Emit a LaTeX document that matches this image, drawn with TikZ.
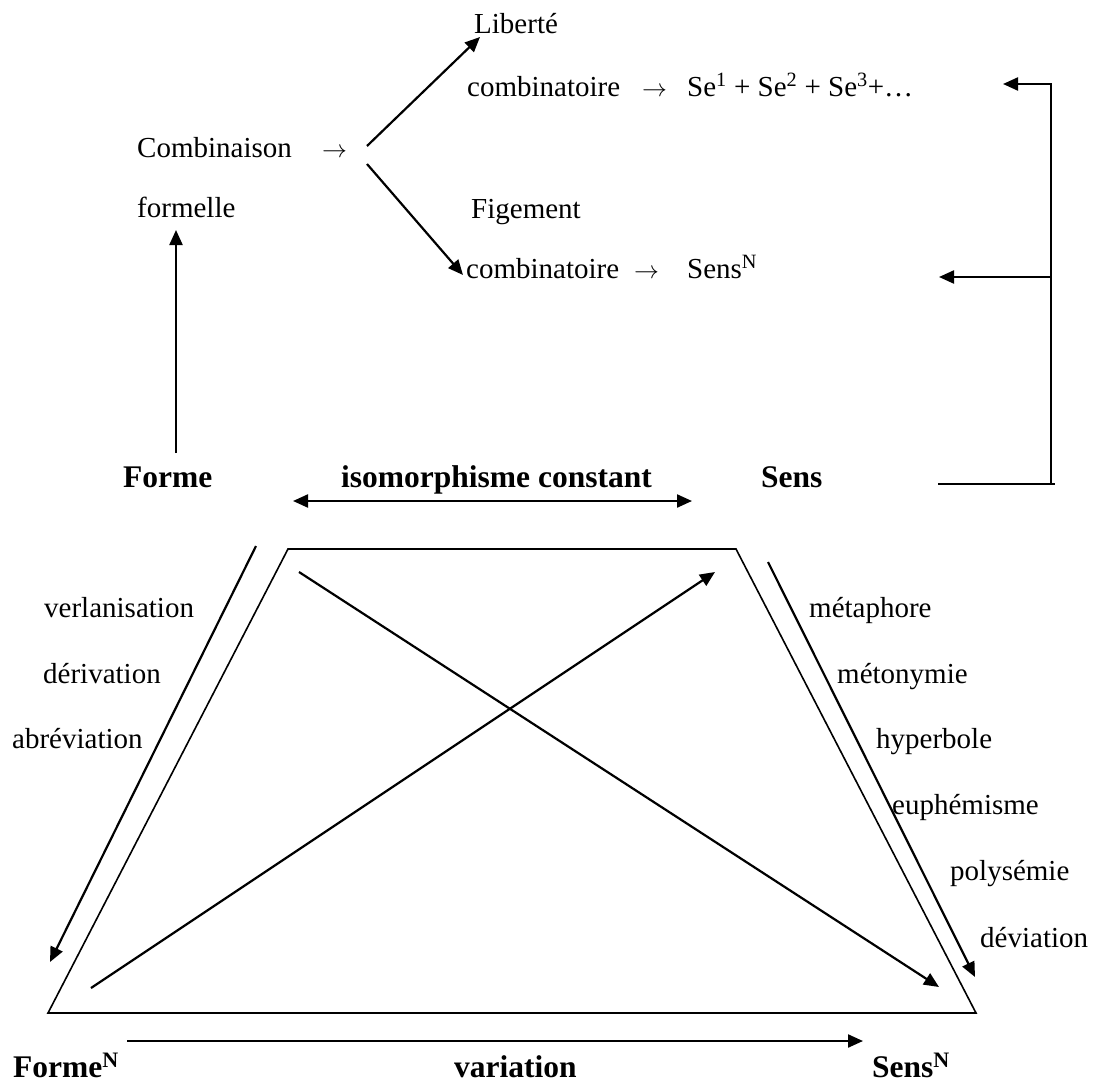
\documentclass[tikz,border=0pt]{standalone}
\usepackage{fontspec}
\setmainfont{Liberation Serif}
\usetikzlibrary{arrows.meta}
\begin{document}
\begin{tikzpicture}[x=1pt,y=-1pt,
  lbl/.style={anchor=base west, inner sep=0pt, font=\fontsize{29}{34}\selectfont},
  hd/.style={anchor=base west, inner sep=0pt, font=\fontsize{31.5}{37}\selectfont\bfseries},
  arr/.style={line width=2.2pt, line join=miter, -{Triangle[length=15pt,width=13pt]}},
  dblarr/.style={line width=2.2pt, {Triangle[length=15pt,width=13pt]}-{Triangle[length=15pt,width=13pt]}},
  plain/.style={line width=2.2pt, line join=miter},
  trap/.style={line width=1.6pt, line join=miter}]
\useasboundingbox (0,0) rectangle (1111,1084);

% upper part: combination branches
\node[lbl] (comb)   at (137,157) {Combinaison};
\node[lbl] (combar) at (322,157) {$\rightarrow$};
\node[lbl] (form)   at (137,217) {formelle};
\node[lbl] (lib)    at (474,33)  {Liberté};
\node[lbl] (cmb1)   at (467,96)  {combinatoire};
\node[lbl] (ar1)    at (642,96)  {$\rightarrow$};
\node[lbl] (se)     at (687,96)  {Se\textsuperscript{1} + Se\textsuperscript{2} + Se\textsuperscript{3}+…};
\node[lbl] (fig)    at (471,218) {Figement};
\node[lbl] (cmb2)   at (466,278) {combinatoire};
\node[lbl] (ar2)    at (634,278) {$\rightarrow$};
\node[lbl] (sensn1) at (687,278) {Sens\textsuperscript{N}};

\coordinate (fork1) at (367,146);
\coordinate (fork2) at (367,164);
\coordinate (libtip) at (480,37);
\coordinate (cmbtip) at (463,275);
\draw[arr] (fork1) -- (libtip);
\draw[arr] (fork2) -- (cmbtip);

% middle headings
\node[hd] (forme) at (123,487) {Forme};
\node[hd] (iso)   at (341,487) {isomorphisme constant};
\node[hd] (sens)  at (761,487) {Sens};

\coordinate (upbot) at (176,453);
\coordinate (uptop) at (176,230);
\draw[arr] (upbot) -- (uptop);

\coordinate (isoL) at (293,501);
\coordinate (isoR) at (692,501);
\draw[dblarr] (isoL) -- (isoR);

% bracket on the right
\coordinate (brA) at (938,484);
\coordinate (brB) at (1051,484);
\coordinate (brC) at (1051,84);
\coordinate (brM) at (1051,277);
\coordinate (tipA) at (1003,84);
\coordinate (tipB) at (939,277);
\draw[plain] (brA) -- (1055,484);
\draw[arr] (brB) -- (brC) -- (tipA);
\draw[arr] (brM) -- (tipB);

% trapezoid
\coordinate (tl) at (288,549);
\coordinate (tr) at (736,549);
\coordinate (brr) at (976,1013);
\coordinate (bll) at (48,1013);
\draw[trap] (tl) -- (tr) -- (brr) -- (bll) -- cycle;

% side arrows
\coordinate (ls) at (256,546);
\coordinate (le) at (50,962);
\coordinate (rs) at (768,562);
\coordinate (re) at (975,977);
\draw[arr] (ls) -- (le);
\draw[arr] (rs) -- (re);

% diagonals
\coordinate (d1s) at (299,572);
\coordinate (d1e) at (939,987);
\coordinate (d2s) at (91,988);
\coordinate (d2e) at (715,572);
\draw[arr] (d1s) -- (d1e);
\draw[arr] (d2s) -- (d2e);

% bottom arrow
\coordinate (bs) at (127,1041);
\coordinate (be) at (863,1041);
\draw[arr] (bs) -- (be);

% left labels
\node[lbl] (verl) at (44,617)  {verlanisation};
\node[lbl] (deri) at (43,683)  {dérivation};
\node[lbl] (abre) at (12,748)  {abréviation};

% right labels
\node[lbl] (meta) at (809,617) {métaphore};
\node[lbl] (meto) at (837,683) {métonymie};
\node[lbl] (hype) at (876,748) {hyperbole};
\node[lbl] (euph) at (892,814) {euphémisme};
\node[lbl] (poly) at (950,880) {polysémie};
\node[lbl] (devi) at (980,947) {déviation};

% bottom headings
\node[hd] (formen) at (13,1077)  {Forme\textsuperscript{N}};
\node[hd] (vari)   at (454,1077) {variation};
\node[hd] (sensn)  at (872,1077) {Sens\textsuperscript{N}};
\end{tikzpicture}
\end{document}
